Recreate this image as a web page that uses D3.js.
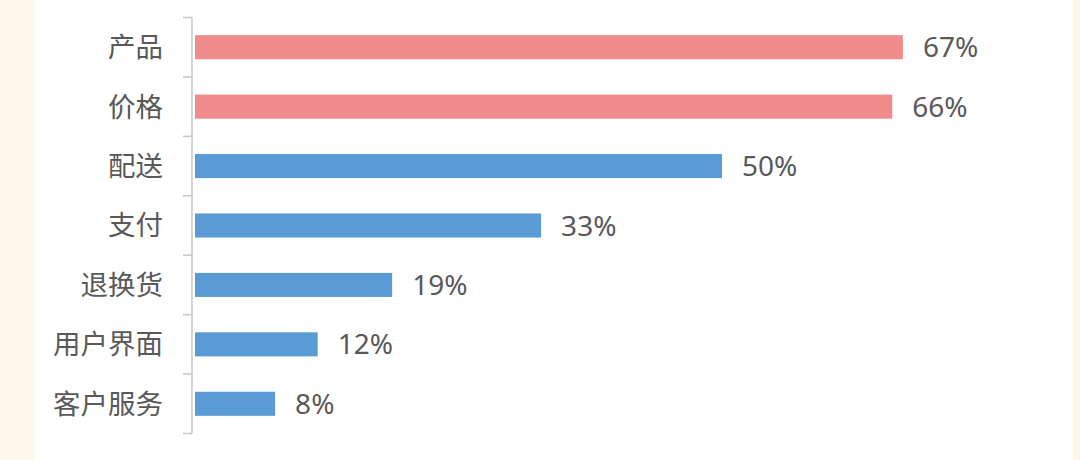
<!DOCTYPE html>
<html><head><meta charset="utf-8">
<script src="https://cdn.jsdelivr.net/npm/d3@7"></script>
<style>
html,body{margin:0;padding:0;background:#fdf8eb;}
svg{display:block;}
</style></head>
<body>
<svg id="chart" width="1080" height="460"></svg>
<script>
const categories = ["产品","价格","配送","支付","退换货","用户界面","客户服务"];
const values = [67, 66, 50, 33, 19, 12, 8];
const highlight = [true, true, false, false, false, false, false];
const valueLabels = ["67%","66%","50%","33%","19%","12%","8%"];

const svg = d3.select("#chart");
svg.append("rect").attr("x",34).attr("y",0).attr("width",1039).attr("height",460).attr("fill","#ffffff");

const x = d3.scaleLinear().domain([0,100]).range([190, 1254]);
const y = d3.scaleBand().domain(categories).range([17.5, 433.5]).paddingInner(0).paddingOuter(0);
const barH = y.bandwidth()*0.405;
const font = "'Noto Sans','Noto Sans CJK SC',sans-serif";

const data = categories.map((c,i)=>({c, v:values[i], h:highlight[i], l:valueLabels[i]}));

svg.append("g").selectAll("rect").data(data).join("rect")
  .attr("x", x(0)+5)
  .attr("y", d=>y(d.c)+y.bandwidth()/2-barH/2)
  .attr("width", d=>x(d.v)-x(0)-5)
  .attr("height", barH)
  .attr("fill", d=>d.h ? "#ef8b8b" : "#5b9bd5");

svg.append("g").selectAll("text").data(data).join("text")
  .attr("x", d=>x(d.v)+20)
  .attr("y", d=>y(d.c)+y.bandwidth()/2)
  .attr("dy","0.36em")
  .attr("font-family", font).attr("font-size", 28).attr("fill","#595959")
  .text(d=>d.l);

// category axis
const axisX = 192;
const ag = svg.append("g");
ag.append("line").attr("x1",axisX).attr("x2",axisX).attr("y1",y.range()[0]).attr("y2",y.range()[1])
  .attr("stroke","#c8c8c8").attr("stroke-width",1.5);
const bounds = categories.map(c=>y(c)).concat([y.range()[1]]);
ag.selectAll("line.tick").data(bounds).join("line").attr("class","tick")
  .attr("x1",axisX-9).attr("x2",axisX).attr("y1",d=>d).attr("y2",d=>d)
  .attr("stroke","#c8c8c8").attr("stroke-width",1.5);
ag.selectAll("text").data(categories).join("text")
  .attr("x", 163).attr("y", d=>y(d)+y.bandwidth()/2)
  .attr("dy","0.36em").attr("text-anchor","end")
  .attr("font-family", font).attr("font-size", 27.5).attr("fill","#595959")
  .text(d=>d);
</script>
</body></html>
